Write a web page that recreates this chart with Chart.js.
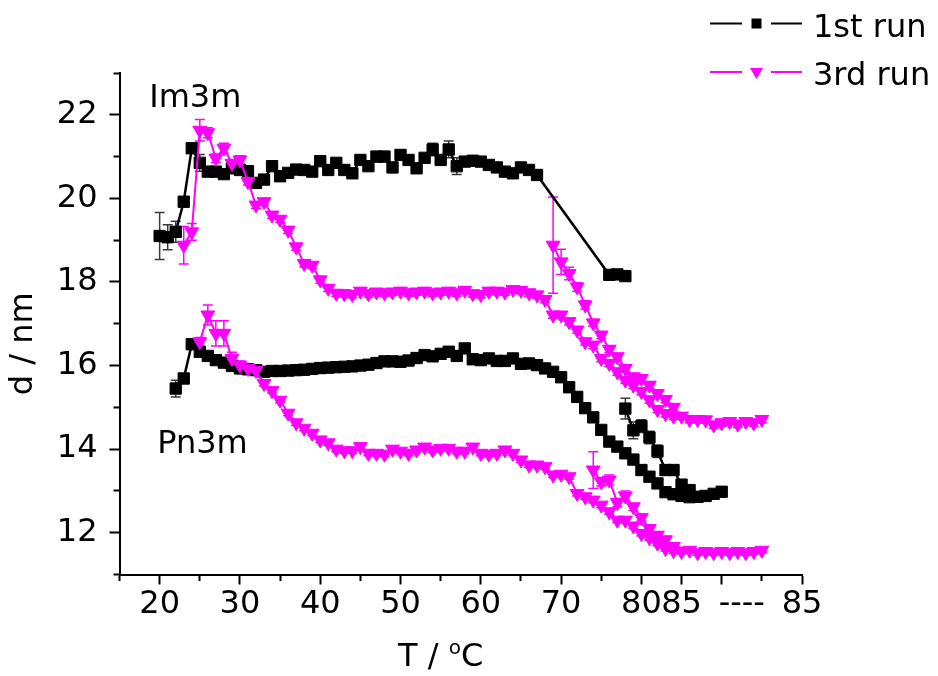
<!DOCTYPE html>
<html>
<head>
<meta charset="utf-8">
<script src="https://cdn.jsdelivr.net/npm/chart.js@4.4.1/dist/chart.umd.min.js"></script>
<style>
  html, body { margin: 0; padding: 0; background: #fff; }
</style>
</head>
<body>
<canvas id="chart" width="938" height="676"></canvas>
<script>
// 1st run, Im3m branch
const run1ImT = [20,21,22,23,24,25,26,27,28,29,30,31,32,33,34,35,36,37,38,39,40,41,42,43,44,45,46,47,48,49,50,51,52,53,54,55,56,57,58,59,60,61,62,63,64,65,66,67,76,77,78];
const run1ImD = [19.10,19.07,19.20,19.92,21.20,20.85,20.64,20.64,20.58,20.72,
  20.68,20.65,20.37,20.45,20.77,20.53,20.61,20.69,20.68,20.64,
  20.89,20.68,20.85,20.68,20.60,20.92,20.77,21.00,21.00,20.74,
  21.04,20.92,20.72,20.97,21.17,20.92,21.17,20.77,20.88,20.90,
  20.88,20.80,20.74,20.64,20.60,20.74,20.68,20.56,
  18.17,18.18,18.14];
const run1ImErr = [0.56,0.30,0.25,0.10,0.10,0.20,0.08,0.08,0.08,0.10,
  0.08,0.08,0.12,0.10,0.10,0.08,0.08,0.10,0.08,0.08,
  0.10,0.10,0.08,0.08,0.08,0.10,0.08,0.12,0.12,0.12,
  0.10,0.10,0.10,0.10,0.15,0.10,0.20,0.20,0.10,0.10,
  0.08,0.08,0.08,0.08,0.08,0.08,0.10,0.08,
  0.10,0.10,0.08];

// 1st run, Pn3m branch
const run1PnT = [22,23,24,25,26,27,28,29,30,31,32,33,34,35,36,37,38,39,40,41,42,43,44,45,46,47,48,49,50,51,52,53,54,55,56,57,58,59,60,61,62,63,64,65,66,67,68,69,70,71,72,73,74,75,76,77,78,79,80,81,82,83,84,85,86,87,88,89,90];
const run1PnD = [15.45,15.69,16.51,16.33,16.23,16.13,16.07,15.99,
  15.93,15.91,15.89,15.85,15.87,15.87,15.88,15.89,15.90,15.92,
  15.94,15.95,15.96,15.97,15.98,16.00,16.02,16.06,16.10,16.10,
  16.09,16.12,16.18,16.25,16.22,16.28,16.33,16.23,16.41,16.15,
  16.13,16.17,16.11,16.11,16.17,16.04,16.05,16.01,15.93,15.85,
  15.72,15.48,15.25,14.98,14.76,14.46,14.18,14.06,13.90,13.75,
  13.50,13.34,13.18,12.97,12.92,12.88,12.85,12.86,12.88,12.93,
  12.98];
const run1PnErr = [0.20,0.08,0,0,0,0,0,0,
  0,0,0,0,0,0,0,0,0,0,
  0,0,0,0,0,0,0,0,0,0,
  0,0,0,0,0,0,0,0,0,0,
  0,0,0,0,0,0,0,0,0,0,
  0,0,0,0,0,0,0,0,0,0,
  0,0,0,0,0,0,0,0,0,0,
  0];

// 1st run, second Pn3m trace
const run1BT = [78,79,80,81,82,83,84,85,86];
const run1BD = [14.97,14.45,14.55,14.28,13.95,13.50,13.50,13.15,13.02];
const run1BErr = [0.25,0.20,0.15,0.15,0.15,0.12,0.10,0.10,0.08];

// 3rd run, Im3m branch
const run3ImT = [23,24,25,26,27,28,29,30,31,32,33,34,35,36,37,38,39,40,41,42,43,44,45,46,47,48,49,50,51,52,53,54,55,56,57,58,59,60,61,62,63,64,65,66,67,68,69,70,71,72,73,74,75,76,77,78,79,80,81,82,83,84,85,86,87,88,89,90,91,92,93,94,95];
const run3ImD = [18.88,19.20,21.63,21.57,20.96,21.20,20.84,
  20.92,20.40,19.84,19.92,19.60,19.50,19.24,18.84,18.44,18.40,
  18.05,17.85,17.73,17.72,17.70,17.78,17.72,17.76,17.74,17.76,
  17.78,17.74,17.76,17.78,17.74,17.76,17.78,17.74,17.80,17.72,
  17.70,17.78,17.78,17.76,17.82,17.80,17.74,17.69,17.58,17.21,
  17.21,17.05,16.85,16.57,16.49,16.17,16.05,15.85,15.65,15.53,
  15.38,15.18,14.95,14.85,14.79,14.79,14.71,14.71,14.70,14.58,
  14.63,14.66,14.60,14.66,14.63,14.71];
const run3ImErr = [0.45,0.20,0.26,0.12,0.10,0.12,0.08,
  0.10,0.08,0.08,0.08,0.08,0.08,0.08,0.08,0.08,0.08,
  0.08,0.08,0.08,0.08,0.08,0.08,0.08,0.08,0.08,0.08,
  0.08,0.08,0.08,0.08,0.08,0.08,0.08,0.08,0.08,0.08,
  0.08,0.08,0.08,0.08,0.08,0.08,0.08,0.08,0.08,0.08,
  0.08,0.08,0.08,0.08,0.08,0.08,0.08,0.08,0.08,0.08,
  0.08,0.08,0.08,0.08,0.08,0.08,0.08,0.08,0.08,0.08,
  0.08,0.08,0.08,0.08,0.08,0.08];

// 3rd run, second Im3m trace
const run3BT = [69,70,71,72,73,74,75,76,77,78,79,80,81,82,83,84];
const run3BD = [18.88,18.48,18.20,17.88,17.45,17.02,16.73,16.39,16.21,15.93,15.73,15.69,15.53,15.33,15.19,15.00];
const run3BErr = [1.15,0.30,0.15,0.10,0.10,0.08,0.08,0.08,0.08,0.08,0.08,0.08,0.08,0.08,0.08,0.08];

// 3rd run, Pn3m branch
const run3PnT = [25,26,27,28,29,30,31,32,33,34,35,36,37,38,39,40,41,42,43,44,45,46,47,48,49,50,51,52,53,54,55,56,57,58,59,60,61,62,63,64,65,66,67,68,69,70,71,72,73,74,75,76,77,78,79,80,81,82,83,84,85,86,87,88,89,90,91,92,93,94,95];
const run3PnD = [16.57,17.21,16.77,16.77,16.17,
  16.01,15.93,15.88,15.57,15.40,15.17,14.86,14.63,14.50,14.38,
  14.22,14.15,14.00,13.96,13.96,14.06,13.90,13.90,13.88,14.00,
  13.95,13.90,13.98,14.05,13.98,14.02,14.02,13.95,13.95,14.05,
  13.90,13.88,13.90,13.98,13.90,13.74,13.62,13.62,13.58,13.38,
  13.40,13.34,12.94,12.86,12.78,12.66,12.50,12.30,12.30,12.16,
  11.98,11.88,11.75,11.62,11.57,11.55,11.58,11.52,11.55,11.52,
  11.55,11.52,11.55,11.52,11.55,11.58];
const run3PnErr = [0.10,0.24,0.30,0.30,0.15,
  0.10,0.10,0.10,0.06,0.06,0.06,0.06,0.06,0.06,0.06,
  0.06,0.06,0.06,0.06,0.06,0.06,0.06,0.06,0.06,0.06,
  0.06,0.06,0.06,0.06,0.06,0.06,0.06,0.06,0.06,0.06,
  0.06,0.06,0.06,0.06,0.06,0.06,0.06,0.06,0.06,0.06,
  0.06,0.06,0.06,0.06,0.06,0.06,0.06,0.06,0.06,0.06,
  0.06,0.06,0.06,0.06,0.06,0.06,0.06,0.06,0.06,0.06,
  0.06,0.06,0.06,0.06,0.06,0.06];

// 3rd run, second Pn3m trace
const run3PnBT = [74,75,76,77,78,79,80,81,82,83,84];
const run3PnBD = [13.50,13.22,13.26,12.72,12.88,12.62,12.36,12.10,11.94,11.83,11.67];
const run3PnBErr = [0.44,0.10,0.12,0.10,0.12,0.08,0.08,0.08,0.08,0.08,0.08];

// axis ticks (broken axis: the last "85" sits at the end)
const xTickValues = [15,20,25,30,35,40,45,50,55,60,65,70,75,80,85,90,92.5,95,100];
const xTickLabels = ['','20','','30','','40','','50','','60','','70','','80','85','','----','','85'];
const xTickKinds = ['minor','major','minor','major','minor','major','minor','major','minor','major','minor','major','minor','major','major','major','none','minor','major'];
const yTickValues = [11,12,13,14,15,16,17,18,19,20,21,22,23];
const yTickLabels = ['','12','','14','','16','','18','','20','','22',''];

const BLACK = '#000000';
const MAGENTA = '#ff00ff';
const FONT = 'DejaVu Sans';

function pts(t, d) {
  return t.map((v, i) => ({ x: v, y: d[i] }));
}

function series(label, t, d, err, color, square) {
  return {
    label: label,
    data: pts(t, d),
    errors: err,
    errorColor: square ? '#3a3a3a' : MAGENTA,
    borderColor: color,
    backgroundColor: color,
    borderWidth: square ? 2.5 : 2,
    pointStyle: square ? 'rect' : 'triangle',
    pointRotation: square ? 0 : 180,
    pointRadius: 8,
    pointBorderWidth: 1,
    pointBorderColor: color,
    pointBackgroundColor: color,
    tension: 0,
    order: square ? 1 : 0
  };
}

const errorBars = {
  id: 'errorBars',
  beforeDatasetsDraw(chart) {
    const ctx = chart.ctx;
    const x = chart.scales.x, y = chart.scales.y;
    chart.data.datasets.forEach(ds => {
      if (!ds.errors) return;
      ctx.save();
      ctx.strokeStyle = ds.errorColor;
      ctx.lineWidth = 1.5;
      ds.data.forEach((p, i) => {
        const e = ds.errors[i];
        if (!e) return;
        const px = x.getPixelForValue(p.x);
        const top = y.getPixelForValue(p.y + e);
        const bot = y.getPixelForValue(p.y - e);
        ctx.beginPath();
        ctx.moveTo(px, top); ctx.lineTo(px, bot);
        ctx.moveTo(px - 5, top); ctx.lineTo(px + 5, top);
        ctx.moveTo(px - 5, bot); ctx.lineTo(px + 5, bot);
        ctx.stroke();
      });
      ctx.restore();
    });
  }
};

// phase labels, axis titles and the legend in the top right corner
const extraText = {
  id: 'extraText',
  afterDraw(chart) {
    const ctx = chart.ctx;
    const x = chart.scales.x, y = chart.scales.y;
    const big = '32px "' + FONT + '"';
    const small = '20px "' + FONT + '"';
    ctx.save();
    ctx.fillStyle = BLACK;
    ctx.font = big;
    ctx.textAlign = 'left';
    ctx.textBaseline = 'alphabetic';
    ctx.fillText('Im3m', x.getPixelForValue(18.7), y.getPixelForValue(22.19));
    ctx.fillText('Pn3m', x.getPixelForValue(19.7), y.getPixelForValue(13.91));

    // y title
    ctx.save();
    ctx.translate(24, (chart.chartArea.top + chart.chartArea.bottom) / 2 + 20);
    ctx.rotate(-Math.PI / 2);
    ctx.textAlign = 'center';
    ctx.textBaseline = 'middle';
    ctx.fillText('d / nm', 0, 0);
    ctx.restore();

    // x title with superscript o
    const p1 = 'T / ', p2 = 'o', p3 = 'C';
    const w1 = ctx.measureText(p1).width;
    const w3 = ctx.measureText(p3).width;
    ctx.font = small;
    const w2 = ctx.measureText(p2).width;
    let tx = x.left + (x.right - x.left) / 2 - 20 - (w1 + w2 + w3) / 2;
    const base = 666;
    ctx.font = big;
    ctx.fillText(p1, tx, base);
    ctx.font = small;
    ctx.fillText(p2, tx + w1, base - 12);
    ctx.font = big;
    ctx.fillText(p3, tx + w1 + w2, base);

    const items = chart.data.datasets.filter(ds => ds.inLegend);
    items.forEach((ds, i) => {
      const yy = 23.5 + i * 48.5;
      ctx.strokeStyle = ds.borderColor;
      ctx.lineWidth = 2;
      ctx.beginPath();
      ctx.moveTo(710, yy); ctx.lineTo(742, yy);
      ctx.moveTo(771, yy); ctx.lineTo(802, yy);
      ctx.stroke();
      ctx.fillStyle = ds.borderColor;
      ctx.beginPath();
      if (ds.pointStyle === 'rect') {
        ctx.rect(751.5, yy - 5, 10, 10);
      } else {
        ctx.moveTo(750, yy - 4);
        ctx.lineTo(763, yy - 4);
        ctx.lineTo(756.5, yy + 7);
        ctx.closePath();
      }
      ctx.fill();
      ctx.fillStyle = BLACK;
      ctx.fillText(ds.label, 813, yy + 13);
    });
    ctx.restore();
  }
};

const dsRun1Im = series('1st run', run1ImT, run1ImD, run1ImErr, BLACK, true);
dsRun1Im.inLegend = true;
const dsRun3Im = series('3rd run', run3ImT, run3ImD, run3ImErr, MAGENTA, false);
dsRun3Im.inLegend = true;

new Chart(document.getElementById('chart'), {
  type: 'line',
  data: {
    datasets: [
      dsRun1Im,
      series('1st run', run1PnT, run1PnD, run1PnErr, BLACK, true),
      series('1st run', run1BT, run1BD, run1BErr, BLACK, true),
      dsRun3Im,
      series('3rd run', run3BT, run3BD, run3BErr, MAGENTA, false),
      series('3rd run', run3PnT, run3PnD, run3PnErr, MAGENTA, false),
      series('3rd run', run3PnBT, run3PnBD, run3PnBErr, MAGENTA, false)
    ]
  },
  options: {
    responsive: false,
    animation: false,
    layout: { padding: { top: 73, right: 136, left: 0, bottom: 0 } },
    plugins: { legend: { display: false }, tooltip: { enabled: false } },
    scales: {
      x: {
        type: 'linear',
        min: 15,
        max: 100,
        afterBuildTicks: s => { s.ticks = xTickValues.map(v => ({ value: v })); },
        afterFit: s => { s.height = 101.5; },
        ticks: {
          autoSkip: false,
          maxRotation: 0,
          padding: 1,
          color: BLACK,
          font: { family: FONT, size: 32 },
          callback: (v, i) => xTickLabels[i]
        },
        grid: {
          drawOnChartArea: false,
          drawTicks: true,
          tickLength: 10,
          tickWidth: 2,
          tickColor: c => xTickKinds[c.index] === 'none' ? 'rgba(0,0,0,0)' : BLACK,
          tickBorderDash: c => xTickKinds[c.index] === 'minor' ? [5, 100] : []
        },
        border: { display: true, color: BLACK, width: 2 },
        title: { display: false }
      },
      y: {
        type: 'linear',
        min: 11,
        max: 23,
        afterBuildTicks: s => { s.ticks = yTickValues.map(v => ({ value: v })); },
        afterFit: s => { s.width = 119.5; },
        ticks: {
          autoSkip: false,
          padding: 12,
          color: BLACK,
          font: { family: FONT, size: 32 },
          callback: (v, i) => yTickLabels[i]
        },
        grid: {
          drawOnChartArea: false,
          drawTicks: true,
          tickLength: 10,
          tickWidth: 2,
          tickColor: BLACK,
          tickBorderDash: c => yTickLabels[c.index] === '' ? [0, 4, 10, 100] : []
        },
        border: { display: true, color: BLACK, width: 2 },
        title: { display: false }
      }
    }
  },
  plugins: [errorBars, extraText]
});
</script>
</body>
</html>
